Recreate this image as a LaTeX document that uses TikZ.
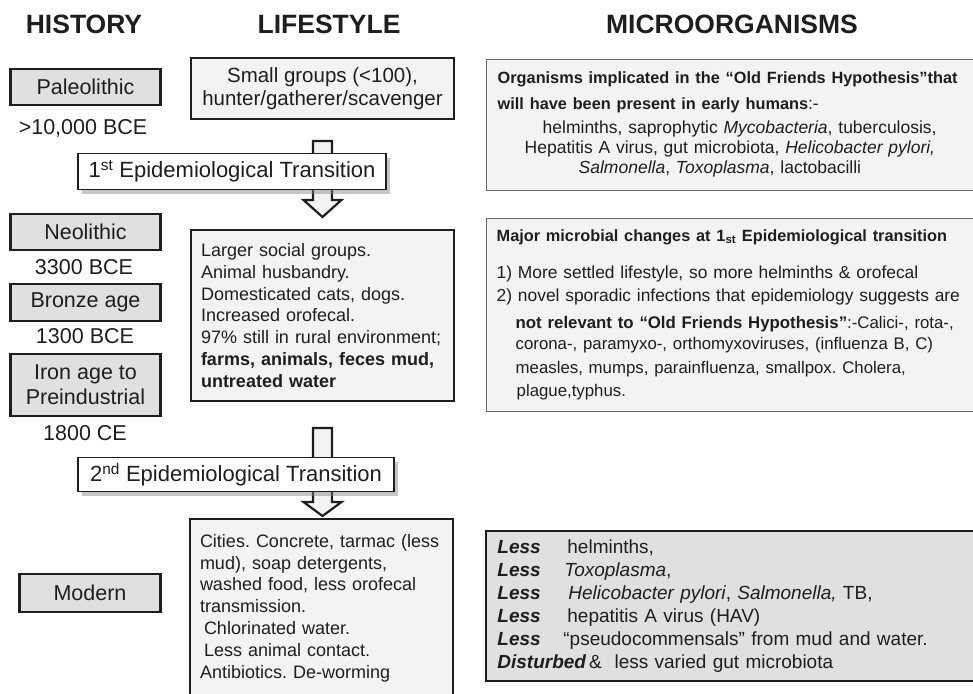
\documentclass[tikz,border=0pt]{standalone}
\usepackage{fontspec}
\setmainfont{Liberation Sans}
\usepackage{tikz}
\usetikzlibrary{shadows}
\usepackage{color}
\definecolor{ink}{RGB}{30,30,30}
\definecolor{era-fill}{RGB}{224,224,224}
\definecolor{life-fill}{RGB}{243,243,243}
\definecolor{micro-line}{RGB}{105,105,105}
\frenchspacing

\begin{document}
\begin{tikzpicture}[x=1pt, y=-1pt,
  head/.style={text=ink, font=\bfseries\fontsize{26.5}{30}\selectfont},
  era/.style={draw=ink, line width=2.5pt, fill=era-fill, text=ink, align=center, font=\fontsize{21.5}{25}\selectfont},
  date/.style={text=ink, font=\fontsize{21.5}{25}\selectfont},
  life/.style={draw=ink, line width=1.3pt, fill=life-fill, text=ink},
  trans/.style={draw=ink, line width=1.3pt, fill=white, text=ink, font=\fontsize{22}{26}\selectfont,
    drop shadow={opacity=0.45, shadow xshift=4pt, shadow yshift=-4pt}},
  micro/.style={draw=micro-line, line width=1.4pt, fill=life-fill, text=ink, anchor=north west, align=left},
  bigarrow/.style={draw=ink, line width=2.2pt, fill=life-fill, line join=miter}
]
  \useasboundingbox (0,0) rectangle (973,693);
  \clip (0,0) rectangle (973,693);

  \node[head] (hist)   at ( 84, 24) {HISTORY};
  \node[head] (lifest) at (329, 24) {LIFESTYLE};
  \node[head] (micro)  at (732, 24) {MICROORGANISMS};

  % history column
  \node[era, minimum width=150, minimum height=36] (paleo)  at (85.5, 87)    {Paleolithic};
  \node[date]                                       (paleo-date)  at ( 83, 128) {>10,000 BCE};
  \node[era, minimum width=150, minimum height=36] (neo)    at (85.5, 232)   {Neolithic};
  \node[date]                                       (neo-date)    at ( 84, 267) {3300 BCE};
  \node[era, minimum width=150, minimum height=37] (bronze) at (85.5, 302.5) {Bronze age};
  \node[date]                                       (bronze-date) at ( 85, 336) {1300 BCE};
  \node[era, minimum width=150, minimum height=62] (iron)   at (85.5, 385)   {Iron age to\\Preindustrial};
  \node[date]                                       (iron-date)   at ( 85, 433) {1800 CE};
  \node[era, minimum width=141, minimum height=38] (modern) at (90, 593)     {Modern};

  % lifestyle column
  \node[life, minimum width=263, minimum height=61, align=center, font=\fontsize{20.5}{23}\selectfont] (small) at (322.5, 88.5)
    {Small groups (<100),\\hunter/gatherer/scavenger};
  \node[life, minimum width=263, minimum height=171, text width=243, align=left, font=\fontsize{18}{21.7}\selectfont] (larger) at (322.5, 315.5)
    {Larger social groups.\\
     Animal husbandry.\\
     Domesticated cats, dogs.\\
     Increased orofecal.\\
     97\% still in rural environment;\\
     \textbf{farms, animals, feces mud,}\\
     \textbf{untreated water}};
  \node[life, line width=2.8pt, minimum width=263, minimum height=178, text width=243, align=left, font=\fontsize{18}{21.8}\selectfont] (cities) at (321.5, 608)
    {Cities. Concrete, tarmac (less\\
     mud), soap detergents,\\
     washed food, less orofecal\\
     transmission.\\
     \hspace*{4pt}Chlorinated water.\\
     \hspace*{4pt}Less animal contact.\\
     Antibiotics. De-worming};

  % block arrows behind the transition boxes
  \coordinate (arr1) at (322.5, 141);
  \coordinate (arr2) at (322.5, 428);
  \draw[bigarrow] (arr1) ++(-9.5,0) -- ++(19,0) -- ++(0,59) -- ++(9.5,0) -- ++(-19,17) -- ++(-19,-17) -- ++(9.5,0) -- cycle;
  \draw[bigarrow] (arr2) ++(-9.5,0) -- ++(19,0) -- ++(0,74) -- ++(9.5,0) -- ++(-19,14) -- ++(-19,-14) -- ++(9.5,0) -- cycle;

  \node[trans, minimum width=308, minimum height=36] (trans1) at (232, 171.5) {1\textsuperscript{st} Epidemiological Transition};
  \node[trans, minimum width=316, minimum height=34] (trans2) at (236, 474.5) {2\textsuperscript{nd} Epidemiological Transition};

  % microorganisms column
  \node[micro, text width=480, inner xsep=11.5, inner ysep=0, minimum height=131, font=\fontsize{17.5}{20}\selectfont] (old) at (485.5, 58.5)
    {{\fontsize{16.3}{20}\selectfont\bfseries Organisms implicated in the “Old Friends Hypothesis”that}\\[6pt]
     {\fontsize{16.3}{20}\selectfont\bfseries will have been present in early humans}:-\\[4pt]
     \hspace*{45pt}helminths, saprophytic \textit{Mycobacteria}, tuberculosis,\\
     \hspace*{27pt}Hepatitis A virus, gut microbiota, \textit{Helicobacter pylori,}\\
     \hspace*{81pt}\textit{Salmonella}, \textit{Toxoplasma}, lactobacilli};
  \node[micro, text width=480, inner xsep=10.5, inner ysep=0, minimum height=193, font=\fontsize{17.4}{22}\selectfont] (major) at (485.5, 217.5)
    {{\fontsize{16.3}{20}\selectfont\bfseries Major microbial changes at 1\textsubscript{st} Epidemiological transition}\\[15pt]
     1) More settled lifestyle, so more helminths \& orofecal\\[1pt]
     2) novel sporadic infections that epidemiology suggests are\\[5pt]
     \hspace*{19pt}{\fontsize{16.8}{20}\selectfont\textbf{not relevant to “Old Friends Hypothesis”}:-Calici-, rota-,}\\[-1pt]
     \hspace*{19pt}{\fontsize{16.8}{20}\selectfont corona-, paramyxo-, orthomyxoviruses, (influenza B, C)}\\[2pt]
     \hspace*{19pt}{\fontsize{16.8}{20}\selectfont measles, mumps, parainfluenza, smallpox. Cholera,}\\[1pt]
     \hspace*{20pt}{\fontsize{16.8}{20}\selectfont plague,typhus.}};
  \node[micro, draw=ink, line width=2.8pt, fill=era-fill, text width=480, inner xsep=11.5, inner ysep=0, minimum height=150, font=\fontsize{19}{23}\selectfont] (less) at (484.5, 529.5)
    {\makebox[70pt][l]{\bfseries\itshape Less}helminths,\\
     \makebox[67pt][l]{\bfseries\itshape Less}\textit{Toxoplasma},\\
     \makebox[71pt][l]{\bfseries\itshape Less}\textit{Helicobacter pylori}, \textit{Salmonella,} TB,\\
     \makebox[70pt][l]{\bfseries\itshape Less}hepatitis A virus (HAV)\\
     \makebox[66pt][l]{\bfseries\itshape Less}“pseudocommensals” from mud and water.\\
     {\bfseries\itshape Disturbed}\,\&\ \ less varied gut microbiota};
\end{tikzpicture}
\end{document}
